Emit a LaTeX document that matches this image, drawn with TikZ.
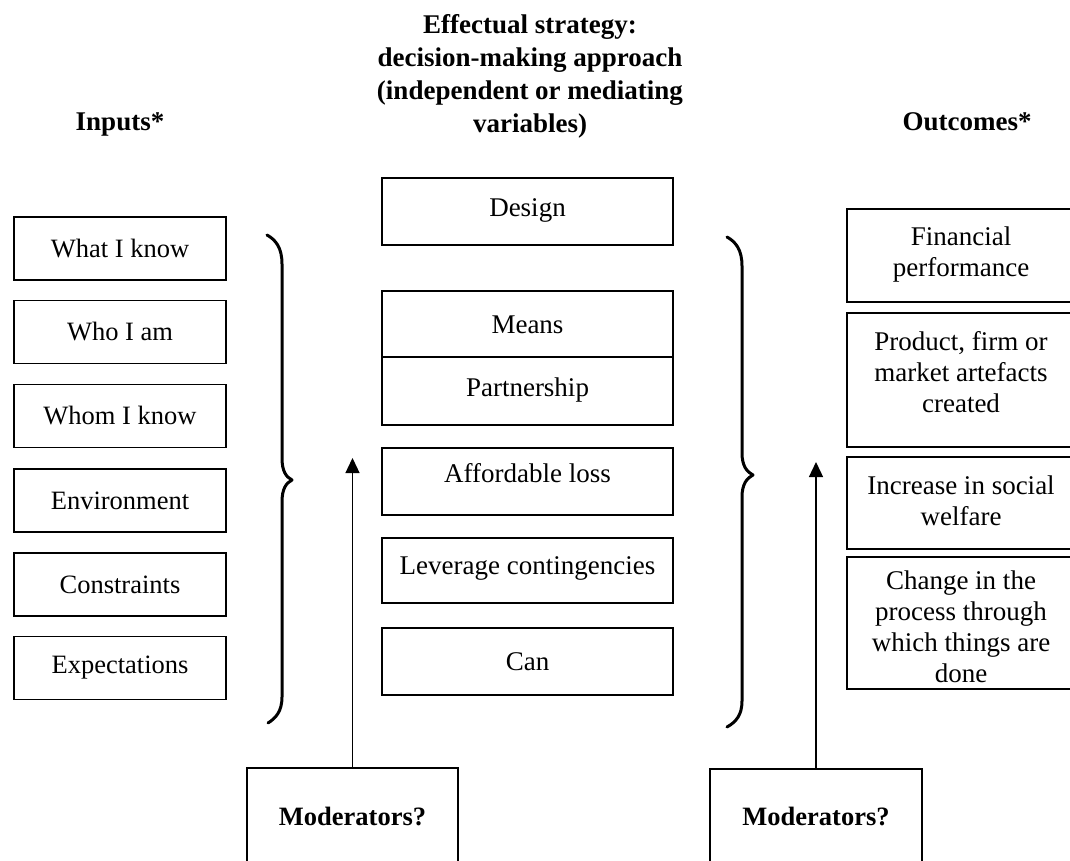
\documentclass[tikz,border=0pt]{standalone}
\usepackage{fontspec}
\setmainfont{Liberation Serif}
\usetikzlibrary{arrows.meta}

\tikzset{
  box/.style={draw, line width=1.8pt, inner sep=0pt, fill=none},
  boxtext/.style={inner sep=0pt, align=center, font=\fontsize{27}{31}\selectfont},
  lefttext/.style={boxtext, font=\fontsize{26.5}{31}\selectfont},
  headtext/.style={inner sep=0pt, align=center, font=\fontsize{27}{33}\selectfont\bfseries},
  modtext/.style={inner sep=0pt, font=\fontsize{26.5}{30}\selectfont\bfseries},
  brace/.style={line width=3pt, line cap=round, line join=round},
  modarrow/.style={line width=1.3pt, -{Triangle[width=14pt,length=15pt]}},
}

% box with its text: name, centre x, centre y, width, height, text shift, text style, text
\newcommand{\textbox}[8]{%
  \node[box, minimum width=#4pt, minimum height=#5pt] (#1) at (#2,#3) {};
  \node[#7] (#1-t) at ([yshift=#6pt]#1.center) {#8};
}

\begin{document}
\begin{tikzpicture}[x=1pt, y=-1pt]
\useasboundingbox (0,0) rectangle (1070,861);
\clip (0,0) rectangle (1070,861);

% column headings
\node[headtext, anchor=base] (inputs) at (120,131) {Inputs*};
\node[headtext, anchor=base] (outcomes) at (967,131) {Outcomes*};
\node[headtext, anchor=north] (strategy) at (530,14) {Effectual strategy:\\decision-making approach\\(independent or mediating\\variables)};

% inputs
\textbox{in1}{120}{248.5}{212}{63}{0}{lefttext}{What I know}
\textbox{in2}{120}{332}{212}{63}{0}{lefttext}{Who I am}
\textbox{in3}{120}{416}{212}{63}{0}{lefttext}{Whom I know}
\textbox{in4}{120}{500.5}{212}{63}{0}{lefttext}{Environment}
\textbox{in5}{120}{584.5}{212}{63}{0}{lefttext}{Constraints}
\textbox{in6}{120}{668}{212}{63}{0}{lefttext}{Expectations}

% effectual principles
\textbox{st1}{527.5}{211.5}{291}{67}{1}{boxtext}{Design}
\textbox{st2}{527.5}{324}{291}{66}{-1}{boxtext}{Means}
\textbox{st3}{527.5}{391}{291}{68}{1}{boxtext}{Partnership}
\textbox{st4}{527.5}{481.5}{291}{67}{8}{boxtext}{Affordable loss}
\textbox{st5}{527.5}{570.5}{291}{65}{2}{boxtext}{Leverage contingencies}
\textbox{st6}{527.5}{661.5}{291}{67}{0}{boxtext}{Can}

% outcomes
\textbox{out1}{961}{255.5}{228}{93}{1}{boxtext}{Financial\\performance}
\textbox{out2}{961}{380}{228}{134}{8}{boxtext}{Product, firm or\\market artefacts\\created}
\textbox{out3}{961}{503}{228}{92}{2}{boxtext}{Increase in social\\welfare}
\textbox{out4}{961}{623}{228}{132}{-4}{boxtext}{Change in the\\process through\\which things are\\done}

% braces
\draw[brace] (267,235) .. controls (276,240) and (282,248) .. (282,264) -- (282,458)
  .. controls (282,471) and (286,477) .. (292,480)
  .. controls (286,483) and (282,489) .. (282,502) -- (282,697)
  .. controls (282,711) and (276,718) .. (268,723);
\draw[brace] (727,237) .. controls (736,242) and (742,250) .. (742,266) -- (742,453)
  .. controls (742,466) and (747,472) .. (753,475)
  .. controls (747,478) and (742,484) .. (742,497) -- (742,701)
  .. controls (742,715) and (736,722) .. (727,727);

% moderators
\node[box, minimum width=211pt, minimum height=110pt, anchor=north] (mod1) at (352.5,767) {};
\node[modtext] (mod1-t) at (352.5,816) {Moderators?};
\node[box, minimum width=212pt, minimum height=110pt, anchor=north] (mod2) at (816,768) {};
\node[modtext] (mod2-t) at (816,816) {Moderators?};

\coordinate (tip1) at (352.5,458);
\coordinate (tip2) at (816,462);
\draw[modarrow] (mod1.north) -- (tip1);
\draw[modarrow] (mod2.north) -- (tip2);
\end{tikzpicture}
\end{document}
